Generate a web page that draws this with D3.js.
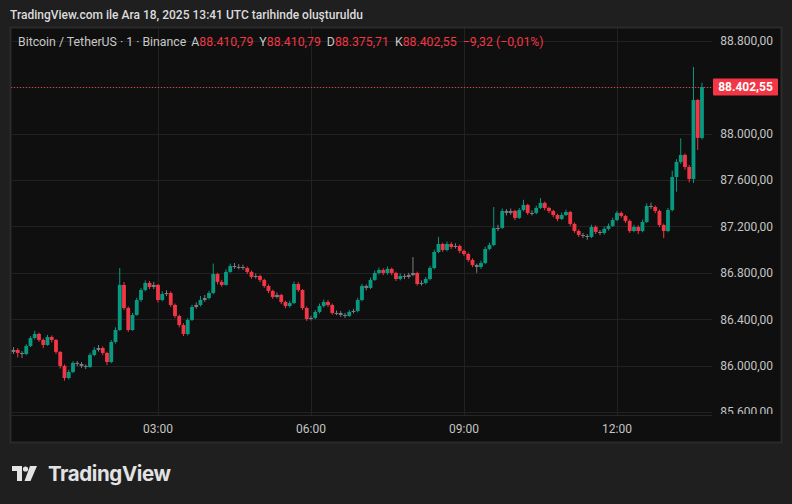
<!DOCTYPE html>
<html>
<head>
<meta charset="utf-8">
<script src="https://cdn.jsdelivr.net/npm/d3@7"></script>
<style>
  html, body { margin: 0; padding: 0; background: #1f1f1f; }
  svg { display: block; }
</style>
</head>
<body>
<script>
// 5-minute candles, BTC/USDT 18 Dec 2025
const START = Date.UTC(2025, 11, 18, 0, 0);
const STEP_MIN = 5;
const FIRST_OPEN = 86100;

const closes = [
  86118, 86135, 86109, 86100, 86169, 86238, 86273, 86221, 86178, 86247,
  86221, 86118, 85997, 85893, 85945, 86023, 86014, 85997, 85988, 86092,
  86135, 86152, 86109, 86031, 86204, 86307, 86696, 86497, 86307, 86437,
  86566, 86652, 86713, 86678, 86696, 86566, 86618, 86626, 86523, 86428,
  86350, 86273, 86394, 86506, 86523, 86566, 86583, 86626, 86790, 86722,
  86696, 86808, 86859, 86851, 86851, 86842, 86808, 86765, 86773, 86739,
  86687, 86644, 86592, 86609, 86549, 86514, 86540, 86704, 86652, 86497,
  86402, 86411, 86463, 86514, 86549, 86523, 86454, 86454, 86437, 86428,
  86463, 86471, 86566, 86687, 86670, 86739, 86799, 86825, 86799, 86834,
  86799, 86747, 86773, 86765, 86782, 86799, 86704, 86713, 86747, 86842,
  86980, 87049, 86997, 87049, 87023, 87032, 86989, 86963, 86911, 86868,
  86851, 86885, 87006, 87040, 87187, 87187, 87334, 87317, 87334, 87274,
  87342, 87386, 87317, 87317, 87360, 87403, 87360, 87334, 87299, 87265,
  87299, 87325, 87222, 87161, 87127, 87118, 87110, 87196, 87153, 87144,
  87179, 87205, 87256, 87317, 87291, 87248, 87161, 87196, 87161, 87239,
  87377, 87368, 87334, 87213, 87161, 87342, 87627, 87756, 87817, 87713,
  87610, 88291, 87964, 88402.55
];

const highs = [
  86140, 86160, 86150, 86125, 86185, 86255, 86300, 86285, 86235, 86265,
  86260, 86230, 86125, 86010, 85965, 86040, 86040, 86030, 86010, 86110,
  86160, 86178, 86165, 86120, 86220, 86330, 86842, 86720, 86510, 86455,
  86585, 86670, 86735, 86730, 86722, 86705, 86640, 86650, 86640, 86535,
  86440, 86365, 86410, 86525, 86545, 86600, 86610, 86645, 86880, 86800,
  86740, 86830, 86880, 86885, 86875, 86870, 86855, 86820, 86795, 86785,
  86750, 86700, 86655, 86630, 86620, 86560, 86560, 86725, 86720, 86660,
  86510, 86430, 86480, 86535, 86570, 86565, 86535, 86475, 86470, 86455,
  86480, 86490, 86585, 86705, 86700, 86760, 86820, 86845, 86840, 86855,
  86845, 86810, 86795, 86790, 86800, 86937, 86810, 86735, 86765, 86860,
  87000, 87110, 87060, 87070, 87065, 87055, 87045, 87000, 86975, 86925,
  86880, 86905, 87025, 87060, 87368, 87215, 87355, 87350, 87355, 87345,
  87360, 87430, 87395, 87340, 87380, 87445, 87415, 87370, 87345, 87310,
  87320, 87345, 87335, 87235, 87175, 87145, 87135, 87215, 87210, 87170,
  87200, 87225, 87275, 87335, 87330, 87300, 87260, 87215, 87210, 87260,
  87400, 87405, 87380, 87345, 87225, 87360, 87680, 87780, 87960, 87830,
  87730, 88576, 88300, 88440
];

const lows = [
  86085, 86100, 86070, 86066, 86090, 86160, 86225, 86205, 86150, 86170,
  86200, 86100, 85975, 85870, 85880, 85935, 85995, 85980, 85970, 85980,
  86080, 86120, 86090, 86005, 86020, 86190, 86300, 86480, 86290, 86300,
  86430, 86550, 86640, 86660, 86660, 86545, 86555, 86600, 86505, 86410,
  86330, 86255, 86260, 86385, 86490, 86510, 86550, 86570, 86615, 86700,
  86680, 86690, 86800, 86835, 86830, 86825, 86790, 86750, 86750, 86720,
  86670, 86625, 86575, 86580, 86530, 86495, 86500, 86530, 86635, 86480,
  86385, 86390, 86400, 86450, 86500, 86505, 86440, 86435, 86420, 86410,
  86420, 86450, 86460, 86555, 86650, 86660, 86730, 86785, 86780, 86785,
  86780, 86730, 86735, 86745, 86750, 86770, 86690, 86690, 86700, 86735,
  86830, 86970, 86980, 86985, 87005, 87010, 86970, 86945, 86895, 86850,
  86800, 86835, 86875, 86995, 87030, 87160, 87180, 87295, 87300, 87255,
  87265, 87330, 87300, 87295, 87305, 87350, 87340, 87315, 87280, 87245,
  87255, 87290, 87205, 87145, 87110, 87100, 87085, 87100, 87135, 87125,
  87130, 87165, 87195, 87245, 87275, 87230, 87145, 87150, 87135, 87150,
  87230, 87350, 87315, 87195, 87100, 87150, 87330, 87500, 87740, 87690,
  87580, 87575, 87860, 87950
];

const priceTicks = [85600, 86000, 86400, 86800, 87200, 87600, 88000, 88400, 88800];
const timeTickHours = [3, 6, 9, 12];

const titleText = "TradingView.com ile Ara 18, 2025 13:41 UTC tarihinde oluşturuldu";
const symbolText = "Bitcoin / TetherUS · 1 · Binance";
const ohlcLabels = ["A", "Y", "D", "K"];
const ohlcValues = ["88.410,79", "88.410,79", "88.375,71", "88.402,55"];
const changeText = "−9,32 (−0,01%)";
const lastPrice = 88402.55;

const W = 792, H = 504;
const PLOT = { left: 11, right: 712, top: 28, bottom: 415 };
const UP = "#089981", DOWN = "#f23645", FLAT = "#7a7d86";
const FONT = "Roboto, 'Noto Sans', sans-serif";

const trLocale = d3.formatLocale({ decimal: ",", thousands: ".", grouping: [3], currency: ["", ""], minus: "−" });
const fmtPrice = trLocale.format(",.2f");

const candles = closes.map((c, i) => ({
  t: new Date(START + STEP_MIN * (i + 1) * 60000),
  o: i ? closes[i - 1] : FIRST_OPEN,
  c: c,
  h: highs[i],
  l: lows[i]
}));

const svg = d3.select("body").append("svg")
  .attr("width", W)
  .attr("height", H)
  .style("font-family", FONT);

svg.append("rect").attr("width", W).attr("height", H).attr("fill", "#1f1f1f");

// chart panel
svg.append("rect")
  .attr("x", 10.5).attr("y", 27.5)
  .attr("width", 771).attr("height", 415)
  .attr("fill", "#0f0f0f")
  .attr("stroke", "#2b2b2b")
  .attr("stroke-width", 2);

svg.append("text")
  .attr("x", 10).attr("y", 19)
  .attr("fill", "#dcdcdc")
  .attr("font-size", 12)
  .attr("font-weight", 500)
  .text(titleText);

const x = d3.scaleUtc()
  .domain([new Date(START + 7.06 * 60000), new Date(START + 831.8 * 60000)])
  .range([PLOT.left, PLOT.right]);

const y = d3.scaleLinear()
  .domain([85574, 88912])
  .range([PLOT.bottom, PLOT.top]);

const band = x(new Date(START + STEP_MIN * 60000)) - x(new Date(START));

// grid
const grid = svg.append("g").attr("stroke", "#222222").attr("stroke-width", 1);
grid.selectAll(".hg")
  .data(priceTicks)
  .enter()
  .append("line")
  .attr("x1", PLOT.left).attr("x2", PLOT.right)
  .attr("y1", d => Math.round(y(d)) + 0.5)
  .attr("y2", d => Math.round(y(d)) + 0.5);

const hourTicks = timeTickHours.map(h => new Date(START + h * 3600000));
grid.selectAll(".vg")
  .data(hourTicks)
  .enter()
  .append("line")
  .attr("x1", d => Math.round(x(d)) + 0.5)
  .attr("x2", d => Math.round(x(d)) + 0.5)
  .attr("y1", PLOT.top).attr("y2", PLOT.bottom);

// time axis separator
svg.append("line")
  .attr("x1", PLOT.left).attr("x2", PLOT.right)
  .attr("y1", PLOT.bottom + 0.5).attr("y2", PLOT.bottom + 0.5)
  .attr("stroke", "#262626");

// candles
svg.append("clipPath").attr("id", "plotClip")
  .append("rect")
  .attr("x", PLOT.left).attr("y", PLOT.top)
  .attr("width", PLOT.right - PLOT.left).attr("height", PLOT.bottom - PLOT.top);

const colorOf = d => Math.abs(d.c - d.o) < 25 ? FLAT : (d.c > d.o ? UP : DOWN);

const cg = svg.append("g").attr("clip-path", "url(#plotClip)");
const bw = band * 0.9;

cg.selectAll(".wick")
  .data(candles)
  .enter()
  .append("line")
  .attr("x1", d => x(d.t))
  .attr("x2", d => x(d.t))
  .attr("y1", d => y(d.h))
  .attr("y2", d => y(d.l))
  .attr("stroke", colorOf)
  .attr("stroke-width", 1);

cg.selectAll(".body")
  .data(candles)
  .enter()
  .append("rect")
  .attr("x", d => x(d.t) - bw / 2)
  .attr("width", bw)
  .attr("y", d => y(Math.max(d.o, d.c)))
  .attr("height", d => Math.max(1, Math.abs(y(d.o) - y(d.c))))
  .attr("fill", colorOf);

// last price dotted line
svg.append("line")
  .attr("x1", PLOT.left).attr("x2", PLOT.right)
  .attr("y1", Math.round(y(lastPrice)) + 0.5)
  .attr("y2", Math.round(y(lastPrice)) + 0.5)
  .attr("stroke", DOWN)
  .attr("stroke-width", 1)
  .attr("stroke-dasharray", "1,2");

// price axis labels (the one under the last-price tag is hidden, as in TradingView)
svg.append("clipPath").attr("id", "axisClip")
  .append("rect")
  .attr("x", PLOT.right).attr("y", PLOT.top)
  .attr("width", 70).attr("height", PLOT.bottom - PLOT.top - 1);

svg.append("g")
  .attr("clip-path", "url(#axisClip)")
  .selectAll("text")
  .data(priceTicks.filter(d => Math.abs(y(d) - y(lastPrice)) > 12))
  .enter()
  .append("text")
  .attr("x", 773)
  .attr("y", d => y(d))
  .attr("dy", "0.36em")
  .attr("text-anchor", "end")
  .attr("font-size", 12)
  .attr("fill", "#c4c4c4")
  .text(d => fmtPrice(d));

// last price label
const ly = y(lastPrice);
svg.append("rect")
  .attr("x", 713).attr("y", ly - 8.5)
  .attr("width", 65).attr("height", 17)
  .attr("rx", 1)
  .attr("fill", DOWN);
svg.append("text")
  .attr("x", 745.5).attr("y", ly)
  .attr("dy", "0.36em")
  .attr("text-anchor", "middle")
  .attr("font-size", 12)
  .attr("font-weight", 700)
  .attr("fill", "#ffffff")
  .text(fmtPrice(lastPrice));

// time axis labels
svg.append("g")
  .selectAll("text")
  .data(hourTicks)
  .enter()
  .append("text")
  .attr("x", d => x(d))
  .attr("y", 429)
  .attr("dy", "0.36em")
  .attr("text-anchor", "middle")
  .attr("font-size", 12)
  .attr("fill", "#c4c4c4")
  .text(d => d3.utcFormat("%H:%M")(d));

// legend line
const legend = svg.append("text")
  .attr("x", 18).attr("y", 42)
  .attr("dy", "0.36em")
  .attr("font-size", 12.3)
  .attr("fill", "#c8c8c8");
legend.append("tspan").text(symbolText);
ohlcLabels.forEach((lab, i) => {
  legend.append("tspan").attr("dx", i ? 6 : 5).attr("fill", "#c8c8c8").text(lab);
  legend.append("tspan").attr("fill", DOWN).text(ohlcValues[i]);
});
legend.append("tspan").attr("dx", 6).attr("fill", DOWN).text(changeText);

// TradingView logo
const logo = svg.append("g").attr("fill", "#e3e3e3");
logo.append("path").attr("d", "M12,466 H22 V481 H17 V471 H12 Z");
logo.append("circle").attr("cx", 25.5).attr("cy", 469).attr("r", 2.6);
logo.append("path").attr("d", "M30,466 H37 L30.5,481 H24.5 Z");
logo.append("text")
  .attr("x", 48).attr("y", 481)
  .attr("font-family", "Inter, 'Noto Sans', sans-serif")
  .attr("font-size", 20.5)
  .attr("font-weight", 700)
  .attr("letter-spacing", -0.4)
  .attr("fill", "#e3e3e3")
  .text("TradingView");
</script>
</body>
</html>
